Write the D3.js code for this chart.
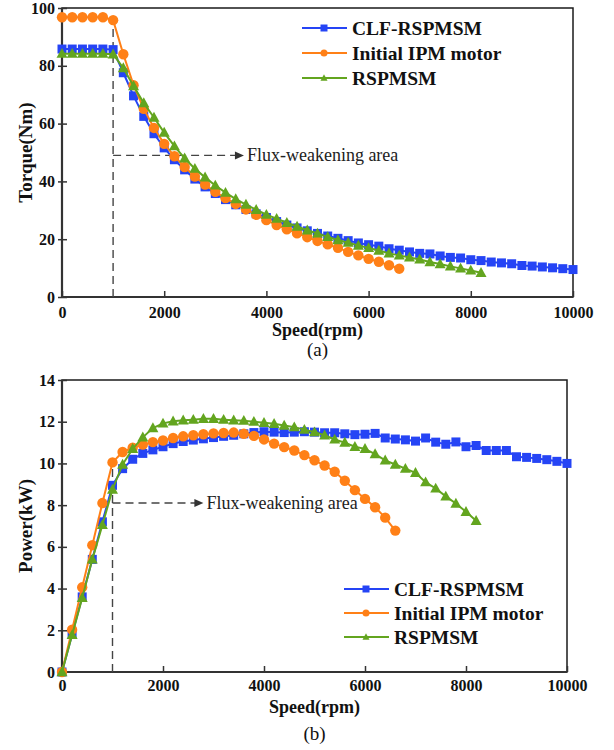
<!DOCTYPE html>
<html><head><meta charset="utf-8">
<script src="https://cdn.jsdelivr.net/npm/d3@7"></script>
<style>body{margin:0;background:#fff}svg{display:block}</style>
</head><body>
<svg id="c" width="614" height="750"></svg>
<script>
// ---------- data ----------
const seriesNames = ["CLF-RSPMSM", "Initial IPM motor", "RSPMSM"];
const xTicks = [0, 2000, 4000, 6000, 8000, 10000];
const torqueTicks = [0, 20, 40, 60, 80, 100];
const powerTicks = [0, 2, 4, 6, 8, 10, 12, 14];

// speeds (rpm)
const speedCLF = [0,200,400,600,800,1000,1200,1400,1600,1800,2000,2200,2400,2600,2800,3000,3200,3400,3600,3800,4000,4200,4400,4600,4800,5000,5200,5400,5600,5800,6000,6200,6400,6600,6800,7000,7200,7400,7600,7800,8000,8200,8400,8600,8800,9000,9200,9400,9600,9800,10000];
const speedIPM = [0,200,400,600,800,1000,1200,1400,1600,1800,2000,2200,2400,2600,2800,3000,3200,3400,3600,3800,4000,4200,4400,4600,4800,5000,5200,5400,5600,5800,6000,6200,6400,6600];
const speedRS = [0,200,400,600,800,1000,1200,1400,1600,1800,2000,2200,2400,2600,2800,3000,3200,3400,3600,3800,4000,4200,4400,4600,4800,5000,5200,5400,5600,5800,6000,6200,6400,6600,6800,7000,7200,7400,7600,7800,8000,8200];

// torque (Nm)
const torqueCLF = [85.8,85.8,85.8,85.8,85.8,85.6,77.6,69.6,62.5,56.5,51.6,47.5,44.0,40.8,38.1,35.8,33.7,31.9,30.3,28.8,27.5,26.1,24.9,23.9,22.9,22.0,21.1,20.3,19.5,18.7,18.1,17.6,16.7,16.2,15.6,15.1,14.9,14.2,13.7,13.5,12.9,12.6,12.1,11.8,11.5,10.9,10.7,10.4,10.1,9.8,9.5];
const torqueIPM = [96.8,96.8,96.8,96.8,96.8,95.8,84.0,73.3,65.1,58.5,53.0,48.7,45.0,41.7,38.9,36.4,34.2,32.2,30.3,28.4,26.6,24.9,23.4,22.0,20.7,19.4,18.2,17.0,15.6,14.4,13.2,12.2,11.0,9.8];
const torqueRS = [84.2,84.2,84.2,84.2,84.2,84.0,79.2,73.0,67.1,62.1,56.9,52.2,48.0,44.4,41.4,38.6,36.1,33.9,32.0,30.2,28.5,27.1,25.7,24.4,23.1,22.0,20.8,19.7,18.8,17.8,17.0,16.1,15.1,14.4,13.7,13.0,12.1,11.4,10.6,9.9,9.2,8.4];

// power (kW)
const powerCLF = [0,1.8,3.6,5.4,7.2,8.95,9.75,10.2,10.48,10.65,10.8,10.95,11.05,11.12,11.18,11.24,11.3,11.35,11.42,11.48,11.52,11.5,11.48,11.5,11.52,11.5,11.47,11.47,11.42,11.38,11.4,11.44,11.22,11.17,11.13,11.07,11.22,11.02,10.92,11.03,10.8,10.86,10.62,10.62,10.62,10.32,10.29,10.24,10.18,10.1,10.0];
const powerIPM = [0,2.03,4.06,6.08,8.1,10.05,10.55,10.75,10.9,11.02,11.1,11.22,11.3,11.35,11.4,11.44,11.46,11.48,11.42,11.32,11.15,10.95,10.78,10.62,10.4,10.15,9.9,9.6,9.17,8.72,8.3,7.9,7.4,6.78];
const powerRS = [0,1.78,3.55,5.4,7.05,8.75,9.95,10.7,11.25,11.7,11.92,12.02,12.07,12.1,12.14,12.14,12.1,12.07,12.05,12.0,11.95,11.9,11.82,11.74,11.62,11.5,11.35,11.15,11.0,10.8,10.7,10.45,10.15,9.95,9.75,9.55,9.1,8.8,8.42,8.08,7.68,7.25];

// annotation values
const baseSpeed = 1000;
const annoTorque = {y: 49, xEnd: 3560, top: 96.5, label: "Flux-weakening area"};
const annoPower = {y: 8.1, xEnd: 2800, top: 9.9, label: "Flux-weakening area"};

// ---------- styles ----------
const colors = ["#2544f5", "#ff8017", "#63a51f"];
const markerTypes = ["square", "circle", "triangle"];
const markerSizes = [9, 10.4, 11];
const serif = "'Liberation Serif','Times New Roman',serif";

const svg = d3.select("#c");

function markerPath(type, s) {
  if (type === "square") return `M${-s/2},${-s/2}h${s}v${s}h${-s}Z`;
  if (type === "triangle") { const h = s*0.9; return `M0,${-h*0.58}L${s/2},${h*0.42}L${-s/2},${h*0.42}Z`; }
  return null;
}
function drawMarker(g, type, x, y, color, s) {
  if (type === "circle") g.append("circle").attr("cx", x).attr("cy", y).attr("r", s/2).attr("fill", color);
  else g.append("path").attr("transform", `translate(${x},${y})`).attr("d", markerPath(type, s)).attr("fill", color);
}

function panel(cfg) {
  const g = svg.append("g");
  const x = d3.scaleLinear().domain([0, 10000]).range([cfg.left, cfg.right]);
  const y = d3.scaleLinear().domain([0, cfg.ymax]).range([cfg.bottom, cfg.top]);

  // frame
  g.append("rect").attr("x", cfg.left).attr("y", cfg.top).attr("width", cfg.right - cfg.left)
    .attr("height", cfg.bottom - cfg.top).attr("fill", "none").attr("stroke", "#1a1a1a").attr("stroke-width", 1.5);

  // x axis
  const xa = g.append("g").attr("transform", `translate(0,${cfg.bottom})`)
    .call(d3.axisBottom(x).tickValues(xTicks).tickFormat(d3.format("d")).tickSizeInner(-6).tickSizeOuter(0).tickPadding(cfg.xPad));
  xa.select(".domain").remove();
  xa.selectAll("line").attr("stroke", "#333").attr("stroke-width", 1.5);
  xa.selectAll("text").attr("font-family", serif).attr("font-weight", "bold").attr("font-size", 16).attr("fill", "#111");

  // y axis
  const ya = g.append("g").attr("transform", `translate(${cfg.left},0)`)
    .call(d3.axisLeft(y).tickValues(cfg.yTicks).tickFormat(d3.format("d")).tickSizeInner(4).tickSizeOuter(0).tickPadding(3));
  ya.select(".domain").remove();
  ya.selectAll("line").attr("x1", 5).attr("x2", -4).attr("stroke", "#333").attr("stroke-width", 1.5);
  ya.selectAll("text").attr("font-family", serif).attr("font-weight", "bold").attr("font-size", 16).attr("fill", "#111");

  // heavy left/bottom axis lines
  g.append("line").attr("x1", cfg.left).attr("x2", cfg.left).attr("y1", cfg.top).attr("y2", cfg.bottom + 1)
    .attr("stroke", "#333").attr("stroke-width", 2.2);
  g.append("line").attr("x1", cfg.left - 1).attr("x2", cfg.right).attr("y1", cfg.bottom).attr("y2", cfg.bottom)
    .attr("stroke", "#333").attr("stroke-width", 2.2);

  // titles
  g.append("text").attr("x", (cfg.left + cfg.right) / 2).attr("y", cfg.xTitleY).attr("text-anchor", "middle")
    .attr("font-family", serif).attr("font-weight", "bold").attr("font-size", 18).attr("fill", "#111").text("Speed(rpm)");
  g.append("text").attr("transform", `translate(32,${(cfg.top + cfg.bottom) / 2}) rotate(-90)`).attr("text-anchor", "middle")
    .attr("font-family", serif).attr("font-weight", "bold").attr("font-size", 19).attr("fill", "#111").text(cfg.yTitle);
  g.append("text").attr("x", (cfg.left + cfg.right) / 2).attr("y", cfg.capY).attr("text-anchor", "middle")
    .attr("font-family", serif).attr("font-size", 19).attr("fill", "#111").text(cfg.caption);

  // annotation
  const a = cfg.anno;
  const dash = "8,5";
  g.append("line").attr("x1", x(baseSpeed)).attr("x2", x(baseSpeed)).attr("y1", cfg.bottom).attr("y2", y(a.top))
    .attr("stroke", "#444").attr("stroke-width", 1.4).attr("stroke-dasharray", dash);
  g.append("line").attr("x1", x(baseSpeed)).attr("x2", x(a.xEnd) - 6).attr("y1", y(a.y)).attr("y2", y(a.y))
    .attr("stroke", "#444").attr("stroke-width", 1.4).attr("stroke-dasharray", dash);
  g.append("path").attr("d", `M${x(a.xEnd)},${y(a.y)}l-9,-4v8Z`).attr("fill", "#333");
  g.append("text").attr("x", x(a.xEnd) + 3).attr("y", y(a.y) + 5.5).attr("font-family", serif)
    .attr("font-size", 18).attr("fill", "#222").text(a.label);

  // series
  cfg.series.forEach((s, i) => {
    const pts = s.xs.map((v, j) => [v, s.ys[j]]);
    g.append("path").datum(pts).attr("fill", "none").attr("stroke", colors[i]).attr("stroke-width", 2)
      .attr("d", d3.line().x(d => x(d[0])).y(d => y(d[1])));
    const mg = g.append("g");
    pts.forEach(d => drawMarker(mg, markerTypes[i], x(d[0]), y(d[1]), colors[i], markerSizes[i]));
  });

  // legend
  const L = cfg.legend;
  seriesNames.forEach((n, i) => {
    const yy = L.y + i * L.dy;
    g.append("line").attr("x1", L.x).attr("x2", L.x + 45).attr("y1", yy).attr("y2", yy)
      .attr("stroke", colors[i]).attr("stroke-width", 2.2);
    drawMarker(g, markerTypes[i], L.x + 22, yy, colors[i], 7);
    g.append("text").attr("x", L.x + 50).attr("y", yy + 6.5).attr("font-family", serif).attr("font-weight", "bold")
      .attr("font-size", 19.5).attr("fill", "#111").text(n);
  });
}

panel({
  left: 62, right: 573, top: 8, bottom: 297, ymax: 100, yTicks: torqueTicks, xPad: 10,
  xTitleY: 336, yTitle: "Torque(Nm)", caption: "(a)", capY: 356,
  anno: annoTorque, legend: {x: 302, y: 28, dy: 25},
  series: [{xs: speedCLF, ys: torqueCLF}, {xs: speedIPM, ys: torqueIPM}, {xs: speedRS, ys: torqueRS}]
});
panel({
  left: 62, right: 567, top: 380, bottom: 672, ymax: 14, yTicks: powerTicks, xPad: 8,
  xTitleY: 713, yTitle: "Power(kW)", caption: "(b)", capY: 740,
  anno: annoPower, legend: {x: 344, y: 589, dy: 24},
  series: [{xs: speedCLF, ys: powerCLF}, {xs: speedIPM, ys: powerIPM}, {xs: speedRS, ys: powerRS}]
});
</script>
</body></html>
